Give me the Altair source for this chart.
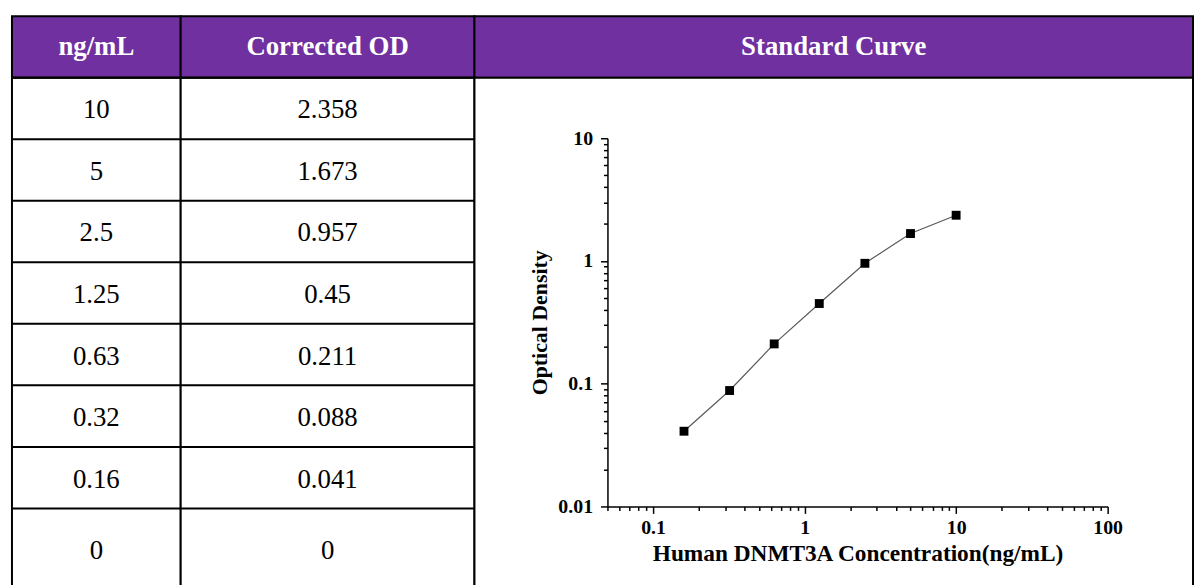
import altair as alt
import pandas as pd

# ---- data ----
conc = [10, 5, 2.5, 1.25, 0.63, 0.32, 0.16, 0]
od = [2.358, 1.673, 0.957, 0.45, 0.211, 0.088, 0.041, 0]
headers = ["ng/mL", "Corrected OD", "Standard Curve"]
x_title = "Human DNMT3A Concentration(ng/mL)"
y_title = "Optical Density"
x_major = [0.1, 1, 10, 100]
y_major = [0.01, 0.1, 1, 10]
x_domain = [0.05, 100]
y_domain = [0.01, 10]

# ---- layout / style ----
PURPLE = "#7030a0"
SERIF = "Liberation Serif"
ROW_H = 62
HEAD_H = 62
BODY_H = 516
WIDTHS = [170, 296, 724]
N = len(conc)
SPAN = BODY_H / ROW_H
X_RANGE = [134, 638]
Y_RANGE = [432, 61]


def minor_ticks(majors, lo, hi):
    vals = []
    for d in majors + [majors[0] / 10]:
        for m in range(1, 10):
            v = round(m * d, 6)
            if lo - 1e-9 <= v <= hi + 1e-9:
                vals.append(v)
    return sorted(set(vals))


x_ticks = minor_ticks(x_major, *x_domain)
y_ticks = minor_ticks(y_major, *y_domain)

table = pd.DataFrame({
    "idx": list(range(N)),
    "conc_s": [str(c) for c in conc],
    "od_s": [str(v) for v in od],
})
curve = pd.DataFrame({"conc": conc, "od": od})
curve = curve[curve["conc"] > 0]


def header_cell(label, w):
    return alt.Chart(pd.DataFrame({"h": [label]})).mark_text(
        font=SERIF, fontSize=27, fontWeight="bold", color="white",
        align="center", baseline="middle"
    ).encode(text="h:N").properties(
        width=w, height=HEAD_H,
        view=alt.ViewBackground(fill=PURPLE, stroke="black", strokeWidth=2),
    )


ysc = alt.Scale(domain=[0, SPAN], reverse=True)


def body_col(field, w):
    base = alt.Chart(table)
    rules = base.mark_rule(color="black", strokeWidth=2).encode(
        y=alt.Y("idx:Q", scale=ysc, axis=None)
    )
    texts = base.transform_calculate(
        mid=f"datum.idx < {N - 1} ? datum.idx + 0.5 : (datum.idx + {SPAN}) / 2"
    ).mark_text(
        font=SERIF, fontSize=27, color="black", align="center", baseline="middle", dy=2
    ).encode(
        y=alt.Y("mid:Q", scale=ysc, axis=None),
        text=alt.Text(f"{field}:N"),
    )
    return alt.layer(rules, texts).properties(
        width=w, height=BODY_H,
        view=alt.ViewBackground(fill="white", stroke="black", strokeWidth=2),
    )


def is_major(lst):
    return "indexof([" + ",".join(str(v) for v in lst) + "], datum.value) >= 0"


axis_common = dict(
    grid=False, domainColor="black", domainWidth=1.5,
    tickColor="black", tickWidth=1.5,
    labelFont=SERIF, labelFontWeight="bold", labelFontSize=20, labelColor="black",
    titleFont=SERIF, titleFontWeight="bold", titleColor="black",
    labelFlush=False, labelOverlap=False,
)

x_axis = alt.Axis(
    values=x_ticks,
    labelExpr=f"{is_major(x_major)} ? '' + datum.value : ''",
    tickSize={"condition": {"test": is_major(x_major), "value": 7}, "value": 4},
    labelPadding=4, title=x_title, titleFontSize=23.5, titlePadding=4,
    offset=Y_RANGE[0] - BODY_H, **axis_common,
)
y_axis = alt.Axis(
    values=y_ticks,
    labelExpr=f"{is_major(y_major)} ? '' + datum.value : ''",
    tickSize={"condition": {"test": is_major(y_major), "value": 7}, "value": 4},
    labelPadding=8, title=y_title, titleFontSize=22, titlePadding=6,
    offset=-X_RANGE[0], **axis_common,
)

xenc = alt.X("conc:Q", scale=alt.Scale(type="log", domain=x_domain, range=X_RANGE), axis=x_axis)
yenc = alt.Y("od:Q", scale=alt.Scale(type="log", domain=y_domain, range=Y_RANGE), axis=y_axis)

line = alt.Chart(curve).mark_line(color="#5a5a5a", strokeWidth=1.2).encode(x=xenc, y=yenc)
pts = alt.Chart(curve).mark_point(
    shape="square", filled=True, color="black", size=80, opacity=1
).encode(x=xenc, y=yenc)

plot_cell = alt.layer(line, pts).properties(
    width=WIDTHS[2], height=BODY_H,
    view=alt.ViewBackground(fill="white", stroke="black", strokeWidth=2),
)

cells = [header_cell(h, w) for h, w in zip(headers, WIDTHS)] + [
    body_col("conc_s", WIDTHS[0]), body_col("od_s", WIDTHS[1]), plot_cell
]

chart = alt.concat(
    *cells, columns=3, spacing=0, bounds="flush", align="each"
).properties(
    padding={"left": 2, "top": 5, "right": 0, "bottom": 0}
).configure(background="white")

chart.save("out.html", embed_options={"renderer": "svg", "actions": False})
